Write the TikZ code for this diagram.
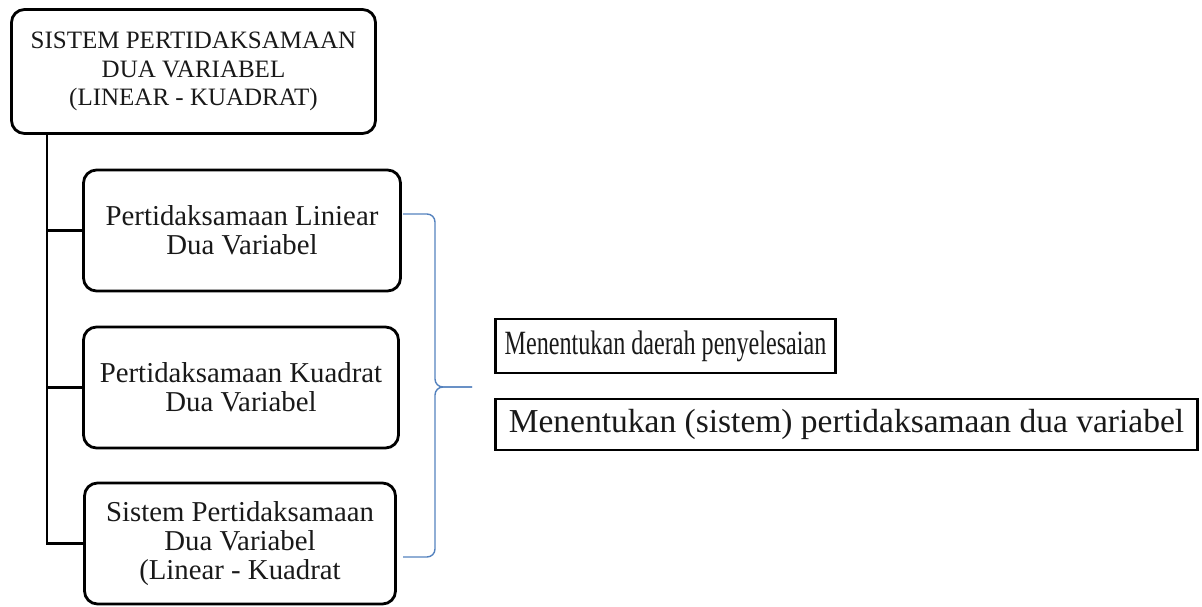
\documentclass[tikz,border=0pt]{standalone}
\usepackage{fontspec}
\setmainfont{Liberation Serif}
\newfontfamily\narrowserif[FakeStretch=0.71]{Liberation Serif}
\usepackage{xcolor}
\usetikzlibrary{positioning}
\definecolor{bracecol}{RGB}{84,130,190}

\begin{document}
\begin{tikzpicture}[x=1pt,y=-1pt,
box/.style={draw,line width=2.8pt,rounded corners=13pt,align=center,text=black!90},
topic/.style={box,minimum height=121pt,font=\fontsize{28.8}{29}\selectfont},
task/.style={draw,line width=2.8pt,align=center,text=black!90,font=\fontsize{33.5}{36}\selectfont},
link/.style={line width=2.8pt},
brace/.style={draw=bracecol,line width=1.4pt,rounded corners=8pt}]
\useasboundingbox (0,0) rectangle (1202,607);
\node[box,minimum width=364pt,minimum height=124pt,font=\fontsize{25}{28.5}\selectfont] (main) at (193.5,71.5)
  {SISTEM PERTIDAKSAMAAN\\DUA VARIABEL\\(LINEAR - KUADRAT)};
\node[topic,minimum width=317pt] (lin) at (242,230.5) {Pertidaksamaan Liniear\\Dua Variabel};
\node[topic,minimum width=315pt] (kuad) at (241,387.5) {Pertidaksamaan Kuadrat\\Dua Variabel};
\node[topic,minimum width=311pt] (sys) at (240,543.5) {Sistem Pertidaksamaan\\Dua Variabel\\(Linear - Kuadrat};
\node[task,minimum width=340pt,minimum height=54pt,font=\narrowserif\fontsize{34}{36}\selectfont] (daerah) at (665.5,346)
  {Menentukan daerah penyelesaian};
\node[task,minimum width=702pt,minimum height=51pt] (sistem) at (846.5,424.5)
  {Menentukan (sistem) pertidaksamaan dua variabel};
% tree lines
\coordinate (trunk) at (47,0);
\draw[link] (trunk |- main.south) |- (sys.west);
\draw[link] (trunk |- lin.west) -- (lin.west);
\draw[link] (trunk |- kuad.west) -- (kuad.west);
% brace
\coordinate (btop) at (403,214);
\coordinate (bbot) at (403,557);
\coordinate (bmid) at (435,387);
\coordinate (btip) at (472,387);
\draw[brace] (btop) -| (bmid) -- (btip);
\draw[brace] (bbot) -| (bmid) -- (btip);
\end{tikzpicture}
\end{document}
